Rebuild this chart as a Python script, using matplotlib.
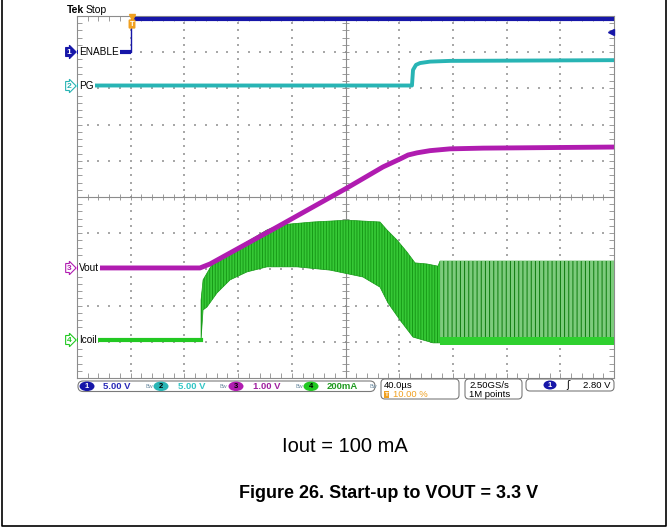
import matplotlib.pyplot as plt
import numpy as np
from matplotlib.patches import Ellipse, FancyBboxPatch

W, H = 668, 529

# scope screen: 40 us/div, trigger at 10 % of the record, 10 x 10 divisions
t_start, t_stop = -40, 360
us_per_div = 40

# traces, time in us and level in screen divisions (centre line = 0)
enable_t = [-40, 0, 0, 360]
enable_div = [4.01, 4.01, 4.93, 4.93]

pg_t = [-40, 209.5, 210.3, 212.5, 215.5, 223.0, 237.8, 360]
pg_div = [3.08, 3.08, 3.51, 3.65, 3.70, 3.74, 3.76, 3.78]

vout_t = [-40, 51.6, 59.1, 109.0, 161.1, 187.9, 200.6, 206.6, 213.3, 222.9,
          237.8, 262.4, 360]
vout_div = [-1.96, -1.96, -1.85, -0.83, 0.25, 0.83, 1.05, 1.16, 1.22, 1.28,
            1.33, 1.35, 1.38]

icoil_t = [-40, 51.6, 52.4]
icoil_div = [-3.95, -3.95, -3.95]

# switching envelope of the coil current
icoil_hi_t = [52.4, 53.9, 61.3, 74.0, 86.6, 101.5, 111.2, 135.8, 161.1, 185.7,
              190.9, 198.4, 205.8, 211.8, 220.7, 228.9, 230.4, 360]
icoil_hi = [-2.85, -2.29, -1.82, -1.52, -1.24, -0.91, -0.77, -0.69, -0.64, -0.69,
            -0.91, -1.19, -1.52, -1.82, -1.85, -1.91, -1.77, -1.77]
icoil_lo_t = [52.4, 53.9, 56.8, 64.3, 74.0, 86.6, 101.5, 123.9, 148.5, 173.0,
              185.7, 191.7, 200.6, 210.3, 225.2, 360]
icoil_lo = [-3.95, -3.12, -3.04, -2.65, -2.29, -2.07, -1.93, -1.93, -2.02, -2.21,
            -2.49, -2.93, -3.40, -3.87, -4.03, -4.03]

# burst-mode part at the end of the record
burst_t = [230.4, 360]
burst_hi = [-1.77, -1.77]
burst_lo = [-4.03, -4.03]
burst_floor_hi = [-3.87, -3.87]
burst_floor_lo = [-4.09, -4.09]

channel_names = ["ENABLE", "PG", "Vout", "Icoil"]
channel_scales = ["5.00 V", "5.00 V", "1.00 V", "200mA"]
channel_colors = ["#1616a8", "#28b4b4", "#b01cb0", "#22c822"]
readout_colors = ["#2a2ab8", "#33c6c6", "#a020a0", "#1f9a1f"]
horizontal_scale = "40.0µs"
trigger_position = "10.00 %"
sample_rate = "2.50GS/s"
record_length = "1M points"
trigger_level = "2.80 V"

plt.rcParams["font.family"] = ["Liberation Sans", "DejaVu Sans"]
plt.rcParams["hatch.linewidth"] = 0.7

fig = plt.figure(figsize=(W / 100, H / 100), dpi=100)
ax = fig.add_axes([77 / W, 1 - 378 / H, 537 / W, 362 / H])
ax.set_xlim(t_start, t_stop)
ax.set_ylim(-5, 5)

# graticule
grid_color = "#8c8c8c"
minor_t = np.arange(t_start, t_stop + 1, us_per_div / 5)
minor_y = np.arange(-5, 5.01, 0.2)
ax.set_xticks([])
ax.set_yticks([])
ax.set_xticks(minor_t, minor=True)
ax.set_yticks(minor_y, minor=True)
ax.tick_params(which="minor", direction="in", length=3.5, width=0.6,
               color=grid_color, top=True, right=True,
               labelbottom=False, labelleft=False)
for spine in ax.spines.values():
    spine.set_color(grid_color)
    spine.set_linewidth(0.8)

major_t = [t for t in range(0, 321, us_per_div) if t != 160]
major_y = [y for y in range(-4, 5) if y != 0]
gx, gy = np.meshgrid(minor_t[1:-1], major_y)
ax.scatter(gx.ravel(), gy.ravel(), s=0.9, marker="s", color="#a8a8a8",
           linewidths=0, zorder=1)
gx, gy = np.meshgrid(major_t, minor_y[1:-1])
ax.scatter(gx.ravel(), gy.ravel(), s=0.9, marker="s", color="#a8a8a8",
           linewidths=0, zorder=1)
ax.axvline(160, color=grid_color, lw=0.8, zorder=1)
ax.axhline(0, color=grid_color, lw=0.8, zorder=1)
ax.vlines(minor_t, -0.08, 0.08, color=grid_color, lw=0.6, zorder=1)
ax.hlines(minor_y, 160 - 2.4, 160 + 2.4, color=grid_color, lw=0.6, zorder=1)


def plot_logic(t, level, color, width):
    """Thin edges, thick noisy levels, like the scope persistence trace."""
    ax.plot(t, level, color=color, lw=1.0, zorder=3)
    for i in range(len(t) - 1):
        if level[i] == level[i + 1]:
            ax.plot(t[i:i + 2], level[i:i + 2], color=color, lw=width,
                    solid_capstyle="butt", zorder=3)


# traces
plot_logic(enable_t, enable_div, channel_colors[0], 3.0)
ax.plot(pg_t, pg_div, color=channel_colors[1], lw=2.8, zorder=3)

band_t = icoil_hi_t + icoil_lo_t[::-1]
band_y = icoil_hi + icoil_lo[::-1]
ax.fill(band_t, band_y, facecolor="#36c836", edgecolor="#179a17",
        hatch="||||||", linewidth=0.5, zorder=3)
ax.fill_between(burst_t, burst_lo, burst_hi, facecolor="#7dcb7d",
                edgecolor="#0c7a0c", hatch="||||", linewidth=0, zorder=3)
ax.fill_between(burst_t, burst_floor_lo, burst_floor_hi, color="#2fd02f",
                linewidth=0, zorder=3)
ax.plot(icoil_t, icoil_div, color=channel_colors[3], lw=3.0, zorder=3)
ax.plot(vout_t, vout_div, color=channel_colors[2], lw=3.5, zorder=4)

# overlay in pixel units for the scope annotations and the caption
ov = fig.add_axes([0, 0, 1, 1])
ov.set_xlim(0, W)
ov.set_ylim(H, 0)
ov.axis("off")

ov.text(67, 10, "Tek", fontsize=7.5, fontweight="bold", va="center")
ov.text(86, 10, "Stop", fontsize=7.5, va="center")
ov.plot(132, 17, marker="v", color="#f0a020", ms=4)
ov.text(132, 24, "T", fontsize=5.5, fontweight="bold", color="white",
        ha="center", va="center",
        bbox=dict(boxstyle="round,pad=0.15", fc="#f0a020", ec="none"))
ov.plot(611, 32, marker="<", color=channel_colors[0], ms=4)

marker_y = [52, 86, 268, 340]
for i, (name, color) in enumerate(zip(channel_names, channel_colors)):
    if i == 0:
        box = dict(boxstyle="rarrow,pad=0.12", fc=color, ec=color, lw=0.8)
        num_color = "white"
    else:
        box = dict(boxstyle="rarrow,pad=0.12", fc="white", ec=color, lw=0.8)
        num_color = color
    ov.text(69, marker_y[i], str(i + 1), fontsize=6, fontweight="bold",
            color=num_color, ha="center", va="center", bbox=box)
    ov.text(79, marker_y[i], name, fontsize=7.2, ha="left", va="center",
            bbox=dict(boxstyle="square,pad=0.1", fc="white", ec="none"))

# readout bar
ov.add_patch(FancyBboxPatch((78, 381), 297, 10.5,
                            boxstyle="round,pad=0,rounding_size=5",
                            fc="white", ec="#7a7a7a", lw=0.8))
ellipse_x = [87, 161, 236, 311]
scale_x = [103, 178, 253, 327]
for i in range(4):
    ov.add_patch(Ellipse((ellipse_x[i], 386.3), 15, 9.5,
                         fc=channel_colors[i], ec="none"))
    ov.text(ellipse_x[i], 386.5, str(i + 1), fontsize=5.5, fontweight="bold",
            color="white" if i == 0 else "black", ha="center", va="center")
    ov.text(scale_x[i], 386.5, channel_scales[i], fontsize=6.8,
            fontweight="bold", color=readout_colors[i], va="center")
    ov.text(scale_x[i] + 42 if i < 3 else 370, 386.5, "Bw", fontsize=4,
            color="#6a8aa0", va="center")

ov.add_patch(FancyBboxPatch((381, 379), 78, 20,
                            boxstyle="round,pad=0,rounding_size=4",
                            fc="white", ec="#7a7a7a", lw=0.8))
ov.text(384, 385, horizontal_scale, fontsize=6.8, va="center")
ov.text(386.5, 394.5, "T", fontsize=4.5, fontweight="bold", color="white",
        ha="center", va="center",
        bbox=dict(boxstyle="square,pad=0.12", fc="#f0a020", ec="none"))
ov.text(393, 394.5, trigger_position, fontsize=6.8, color="#f0a020",
        va="center")

ov.add_patch(FancyBboxPatch((465, 379), 57, 20,
                            boxstyle="round,pad=0,rounding_size=4",
                            fc="white", ec="#7a7a7a", lw=0.8))
ov.text(469, 385, sample_rate, fontsize=6.8, va="center")
ov.text(469, 394.5, record_length, fontsize=6.8, va="center")

ov.add_patch(FancyBboxPatch((526, 379), 88, 12,
                            boxstyle="round,pad=0,rounding_size=4",
                            fc="white", ec="#7a7a7a", lw=0.8))
ov.add_patch(Ellipse((550, 385), 13, 9, fc=channel_colors[0], ec="none"))
ov.text(550, 385.3, "1", fontsize=5.5, fontweight="bold", color="white",
        ha="center", va="center")
ov.text(568, 385, "ʃ", fontsize=7, va="center", ha="center",
        family=["DejaVu Sans"])
ov.text(583, 385, trigger_level, fontsize=6.8, va="center")

# caption
ov.text(345, 447, "Iout = 100 mA", fontsize=14.5, ha="center", va="center")
ov.text(389, 494, "Figure 26. Start-up to VOUT = 3.3 V", fontsize=13,
        fontweight="bold", ha="center", va="center")

# page frame
ov.plot([1.5, 1.5, 665.5, 665.5], [0, 526, 526, 0], color="black", lw=1.2)

fig.savefig("out.png", dpi=100)
